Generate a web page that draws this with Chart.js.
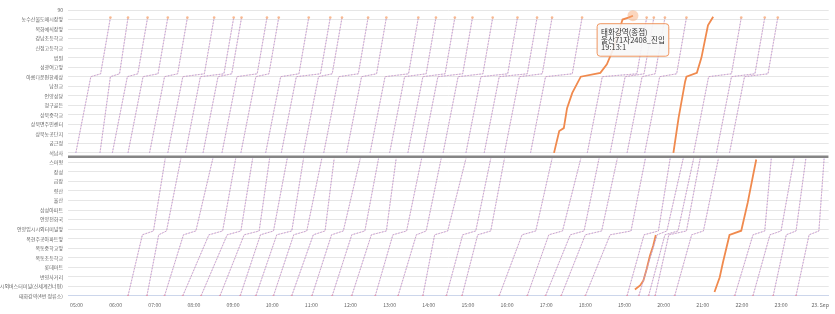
<!DOCTYPE html>
<html>
<head>
<meta charset="utf-8">
<script src="https://cdn.jsdelivr.net/npm/chart.js@4.4.1/dist/chart.umd.min.js"></script>
<style>
html, body { margin: 0; padding: 0; background: #fff; }
</style>
</head>
<body>
<canvas id="myChart" width="835" height="314"></canvas>
<script>
// 정류장 (아래 0 -> 위 30)
var stopNames = [
    '태화강역(4번 정류소)', '시외버스터미널(신세계건너편)', '번영사거리', '롯데마트', '옥동초등학교',
    '옥동중학교앞', '옥현주공아파트앞', '언양임시시외터미널앞', '언양전화국', '삼성아파트',
    '율산', '향산', '금장', '장성', '스마형',
    '석남사', '궁근정', '상북농공단지', '상북면주민센터', '상북중학교',
    '청구골든', '언양성당', '남천교', '아름다운편한세상', '성광여고앞',
    '법원', '신정고등학교', '강남초등학교', '목화예식장앞', '농수산물도매시장앞', '90'
];

var xTickLabels = ['05:00', '06:00', '07:00', '08:00', '09:00', '10:00', '11:00', '12:00', '13:00', '14:00',
    '15:00', '16:00', '17:00', '18:00', '19:00', '20:00', '21:00', '22:00', '23:00', '23. Sep'];

// 석남사 -> 종점 방향 운행
var upStops = [15, 23, 23.3, 29.2];
var upDepart = ['04:59','05:36','05:55','06:19','06:52','07:20','07:47','08:14','08:43','09:12','09:50','10:14','10:48','11:19','11:54','12:30','13:00','13:28','13:51','14:22','14:57','15:25','15:56','16:36','18:03','18:38','19:04','19:31','20:46','21:21','21:41'];
var upFlatIn = ['05:22','05:52','06:18','06:42','07:15','07:43','08:10','08:37','09:06','09:35','10:13','10:37','11:11','11:42','12:17','12:53','13:23','13:51','14:14','14:45','15:20','15:48','16:19','16:59','18:26','19:01','19:27','19:54','21:09','21:44','22:04'];
var upFlatOut = ['05:37','06:06','06:34','07:05','07:35','08:16','08:46','08:58','09:37','09:55','10:41','11:14','11:32','12:12','12:40','13:29','13:56','14:25','14:52','15:23','16:01','16:31','16:54','17:40','19:19','19:30','19:47','20:20','21:44','22:20','22:40'];
var upArrive = ['05:52','06:19','06:49','07:20','07:50','08:31','09:01','09:13','09:52','10:10','10:56','11:29','11:47','12:27','12:55','13:44','14:11','14:40','15:07','15:38','16:16','16:46','17:09','17:55','19:34','19:45','20:02','20:35','21:59','22:35','22:55'];

// 태화강역 -> 석남사 방향 운행
var downStops = [0, 6.4, 6.8, 14.4];
var downDepart = ['06:19','06:48','07:15','07:43','08:11','08:40','09:11','09:35','10:02','10:30','11:01','11:32','12:02','12:38','13:13','13:51','14:27','14:51','15:48','16:31','16:59','17:23','18:00','19:04','19:22','19:37','19:47','20:17','21:49','22:17','22:48','23:23'];
var downFlatIn = ['06:41','07:06','07:44','08:23','08:51','09:17','09:42','10:07','10:33','11:03','11:31','12:02','12:32','13:05','13:41','14:09','14:52','15:15','16:23','17:04','17:37','18:00','18:38','19:30','19:50','20:02','20:08','20:43','22:17','22:43','23:08','23:43'];
var downFlatOut = ['06:58','07:18','08:03','08:44','09:12','09:40','10:02','10:30','10:53','11:21','11:49','12:22','12:55','13:26','13:56','14:29','15:12','15:35','16:44','17:25','17:58','18:25','19:10','19:52','20:05','20:22','20:35','21:01','22:35','23:00','23:23','23:58'];
var downArrive = ['07:16','07:40','08:29','09:04','09:30','09:56','10:23','10:48','11:16','11:35','12:15','12:43','13:10','13:49','14:19','14:57','15:35','15:56','17:09','17:53','18:21','18:49','19:32','20:10','20:30','20:46','20:56','21:24','22:45','23:20','23:38','24:06'];

// 울산71자2408 (선택 차량)
var selUp1Times = ['17:12','17:20','17:27','17:32','17:40','17:53','18:23','18:33','18:41','18:49','18:57','19:06','19:13'];
var selUp1Stops = [15.0, 17.3, 17.6, 19.7, 21.3, 23.0, 23.4, 24.3, 25.6, 27.2, 29.0, 29.2, 29.4];
var selUp2Times = ['20:15','20:23','20:33','20:35','20:51','20:58','21:03','21:08','21:16'];
var selUp2Stops = [15.0, 18.7, 22.5, 23.0, 23.4, 25.0, 26.7, 28.4, 29.3];
var selDown1Times = ['19:16','19:24','19:29','19:34','19:39','19:44','19:48'];
var selDown1Stops = [0.66, 1.08, 1.6, 2.82, 4.2, 5.26, 6.38];
var selDown2Times = ['21:18','21:26','21:31','21:41','21:59','22:09','22:17','22:22'];
var selDown2Stops = [0.39, 1.95, 3.52, 6.38, 6.83, 9.8, 12.6, 14.3];

var tipLines = ['태화강역(종점)', '울산71자2408_진입', '19:13:1'];

var X_MIN = 287, X_MAX = 1453;
var DIVIDER = 14.6;
var FONT = "'Noto Sans CJK KR', 'Noto Sans', sans-serif";

function toMin(s) {
    var p = s.split(':');
    return Number(p[0]) * 60 + Number(p[1]);
}

function points(times, stops) {
    return times.map(function (t, i) { return { x: toMin(t), y: stops[i] }; });
}

var datasets = [];

function addTrip(times, stops, upward) {
    var pts = points(times, stops);
    datasets.push({
        data: pts,
        borderColor: 'rgba(236, 170, 185, 0.45)',
        borderWidth: 1,
        pointRadius: function (c) {
            if (upward) return c.dataIndex === pts.length - 1 ? 1.3 : 0;
            return c.dataIndex === 0 ? 1.1 : 0;
        },
        pointBackgroundColor: upward ? 'rgba(247,180,135,0.9)' : 'rgba(235,140,155,0.9)',
        pointBorderWidth: 0
    });
    datasets.push({
        data: pts,
        borderColor: 'rgba(135, 135, 225, 0.75)',
        borderWidth: 1,
        borderDash: [1.5, 1.5],
        pointRadius: 0
    });
}

for (var i = 0; i < upDepart.length; i++) {
    addTrip([upDepart[i], upFlatIn[i], upFlatOut[i], upArrive[i]], upStops, true);
}
for (var j = 0; j < downDepart.length; j++) {
    addTrip([downDepart[j], downFlatIn[j], downFlatOut[j], downArrive[j]], downStops, false);
}

// 구분선
datasets.push({
    data: [{ x: X_MIN, y: DIVIDER }, { x: X_MAX, y: DIVIDER }],
    borderColor: '#858585',
    borderWidth: 2.5,
    pointRadius: 0
});

var selStyle = {
    borderColor: 'rgb(240, 138, 78)',
    borderWidth: 1.8,
    pointRadius: 0,
    pointHoverRadius: 5.5,
    pointHoverBackgroundColor: 'rgba(247, 163, 110, 0.45)',
    pointHoverBorderWidth: 0
};
datasets.push(Object.assign({ data: points(selDown1Times, selDown1Stops) }, selStyle));
datasets.push(Object.assign({ data: points(selDown2Times, selDown2Stops) }, selStyle));
datasets.push(Object.assign({ data: points(selUp2Times, selUp2Stops) }, selStyle));
datasets.push(Object.assign({ data: points(selUp1Times, selUp1Stops) }, selStyle));
var tipDataset = datasets.length - 1;

var ctx = document.getElementById('myChart').getContext('2d');
var myChart = new Chart(ctx, {
    type: 'line',
    data: { datasets: datasets },
    options: {
        responsive: false,
        animation: false,
        events: [],
        layout: { padding: { top: 10, right: 2, bottom: 0, left: 0 } },
        plugins: {
            legend: { display: false },
            tooltip: {
                enabled: true,
                yAlign: 'top',
                xAlign: 'center',
                caretSize: 0,
                caretPadding: 8,
                backgroundColor: 'rgba(247, 247, 247, 0.9)',
                borderColor: 'rgb(240, 150, 95)',
                borderWidth: 1,
                cornerRadius: 3,
                displayColors: false,
                padding: { top: 5, bottom: 5, left: 4, right: 4 },
                bodyColor: '#333333',
                bodyFont: { family: FONT, size: 7.5, lineHeight: 1.0 },
                bodySpacing: 0,
                callbacks: {
                    title: function () { return []; },
                    label: function () { return tipLines; }
                }
            }
        },
        scales: {
            x: {
                type: 'linear',
                min: X_MIN,
                max: X_MAX,
                afterBuildTicks: function (scale) {
                    scale.ticks = xTickLabels.map(function (l, i) { return { value: 300 + i * 60 }; });
                },
                ticks: {
                    autoSkip: false,
                    maxRotation: 0,
                    padding: 6,
                    color: '#666666',
                    font: { family: FONT, size: 5.2 },
                    callback: function (v, i) { return xTickLabels[i]; }
                },
                grid: { display: false, drawTicks: false },
                border: { color: '#ccd6eb', width: 1 }
            },
            y: {
                type: 'linear',
                min: 0,
                max: 30,
                afterFit: function (scale) { scale.width = 68; },
                afterBuildTicks: function (scale) {
                    scale.ticks = stopNames.map(function (n, i) { return { value: i }; });
                },
                ticks: {
                    autoSkip: false,
                    padding: 5,
                    color: '#666666',
                    font: { family: FONT, size: 5 },
                    callback: function (v) { return stopNames[v]; }
                },
                grid: { color: '#e6e6e6', lineWidth: 1, drawTicks: false },
                border: { display: false }
            }
        }
    }
});

var last = selUp1Times.length - 1;
myChart.setActiveElements([{ datasetIndex: tipDataset, index: last }]);
myChart.tooltip.setActiveElements([{ datasetIndex: tipDataset, index: last }], { x: 0, y: 0 });
myChart.update();
</script>
</body>
</html>
